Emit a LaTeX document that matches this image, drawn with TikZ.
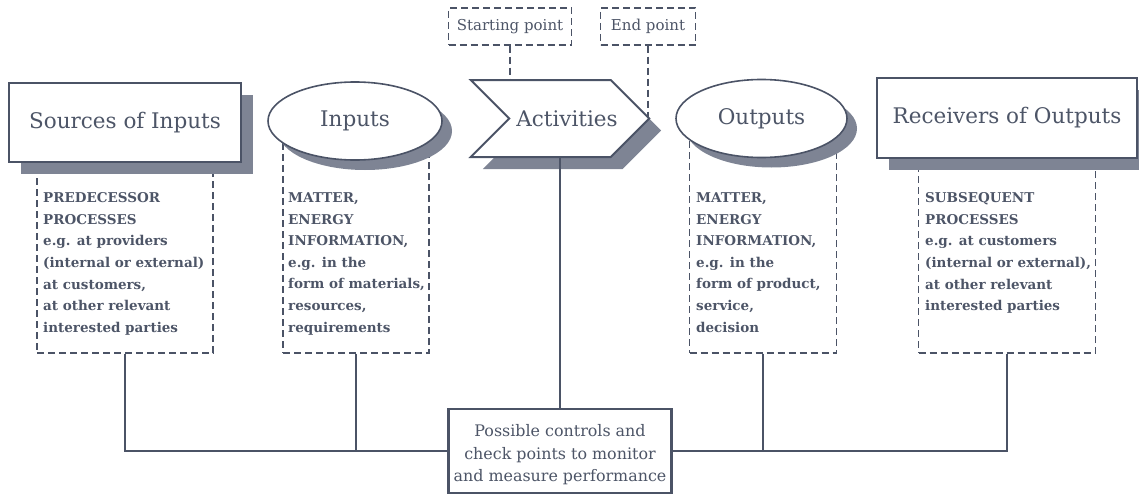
\documentclass[tikz,border=0pt]{standalone}
\usepackage{fontspec}
\setmainfont{DejaVu Serif}
\usetikzlibrary{shapes.geometric,shapes.symbols,shadows}
\definecolor{ln}{HTML}{4B5366}
\definecolor{tx}{HTML}{4D5567}
\definecolor{shc}{HTML}{7E8494}
\begin{document}
\begin{tikzpicture}[x=1pt,y=-1pt,
  every node/.style={text=tx},
  head/.style={font=\fontsize{21.5}{25}\selectfont, inner sep=0pt, draw=ln, fill=white, line width=2pt},
  boxshadow/.style={drop shadow={shadow xshift=12pt, shadow yshift=-12pt, fill=shc, opacity=1}},
  ellshadow/.style={drop shadow={shadow xshift=10pt, shadow yshift=-10pt, fill=shc, opacity=1}},
  dbox/.style={draw=ln, dash pattern=on 7pt off 4pt, line width=1.3pt, inner sep=0pt},
  dtext/.style={font=\bfseries\fontsize{13.5}{21.6}\selectfont, align=left, inner sep=0pt, anchor=north west},
  conn/.style={draw=ln, line width=1.6pt},
  lead/.style={draw=ln, line width=1.3pt, dash pattern=on 7pt off 4pt},
  tag/.style={draw=ln, line width=1.3pt, dash pattern=on 7pt off 4pt, font=\fontsize{15}{17}\selectfont, minimum height=37pt, inner sep=0pt},
  ctrlbox/.style={draw=ln, line width=2.2pt, fill=white, minimum width=223pt, minimum height=84pt, align=center, font=\fontsize{15.9}{22.5}\selectfont, inner sep=0pt}
]
\useasboundingbox (0,0) rectangle (1139,495);

% dashed description boxes
\node[dbox, minimum width=176pt, minimum height=203pt] (srcbox) at (125,251.5) {};
\node[dtext] (srctxt) at (43,192.5) {PREDECESSOR\\PROCESSES\\e.g. at providers\\(internal or external)\\at customers,\\at other relevant\\interested parties};

\node[dbox, minimum width=146pt, minimum height=223pt] (inbox) at (356,241.5) {};
\node[dtext] (intxt) at (288,192.5) {MATTER,\\ENERGY\\INFORMATION,\\e.g. in the\\form of materials,\\resources,\\requirements};

\node[dbox, minimum width=147pt, minimum height=223pt] (outbox) at (763,241.5) {};
\node[dtext] (outtxt) at (696,192.5) {MATTER,\\ENERGY\\INFORMATION,\\e.g. in the\\form of product,\\service,\\decision};

\node[dbox, minimum width=177pt, minimum height=203pt] (recbox) at (1007,251.5) {};
\node[dtext] (rectxt) at (925,192.5) {SUBSEQUENT\\PROCESSES\\e.g. at customers\\(internal or external),\\at other relevant\\interested parties};

% starting / end point tags
\node[tag, minimum width=123pt] (start) at (510,26.5) {Starting point};
\node[tag, minimum width=95pt] (endp) at (648,26.5) {End point};
\coordinate (tip) at (648,118.5);
\draw[lead] (start.south) -- (start.south |- tip);
\draw[lead] (endp.south) -- (tip);

% main shapes
\node[head, rectangle, boxshadow, minimum width=232pt, minimum height=79pt] (src) at (125,122.5) {Sources of Inputs};
\node[head, ellipse, ellshadow, line width=1.6pt, minimum width=174pt, minimum height=78pt] (inp) at (355,121) {Inputs};
\node[head, signal, signal from=west, signal to=east, signal pointer angle=90, boxshadow, minimum width=177pt, minimum height=77pt] (act) at (560,118.5) {\hspace*{7pt}Activities\hspace*{-7pt}};
\node[head, ellipse, ellshadow, line width=1.6pt, minimum width=171pt, minimum height=78pt] (out) at (761.5,118.5) {Outputs};
\node[head, rectangle, boxshadow, minimum width=260pt, minimum height=80pt] (rec) at (1007,118) {Receivers of Outputs};

% control box
\node[ctrlbox] (ctrl) at (560,451) {\rule{0pt}{20pt}Possible controls and\\check points to monitor\\and measure performance};

% connectors
\draw[conn] (srcbox.south) |- (ctrl.west);
\draw[conn] (inbox.south) |- (ctrl.west);
\draw[conn] (outbox.south) |- (ctrl.east);
\draw[conn] (recbox.south) |- (ctrl.east);
\draw[conn] (act.south) -- (ctrl.north);
\end{tikzpicture}
\end{document}
